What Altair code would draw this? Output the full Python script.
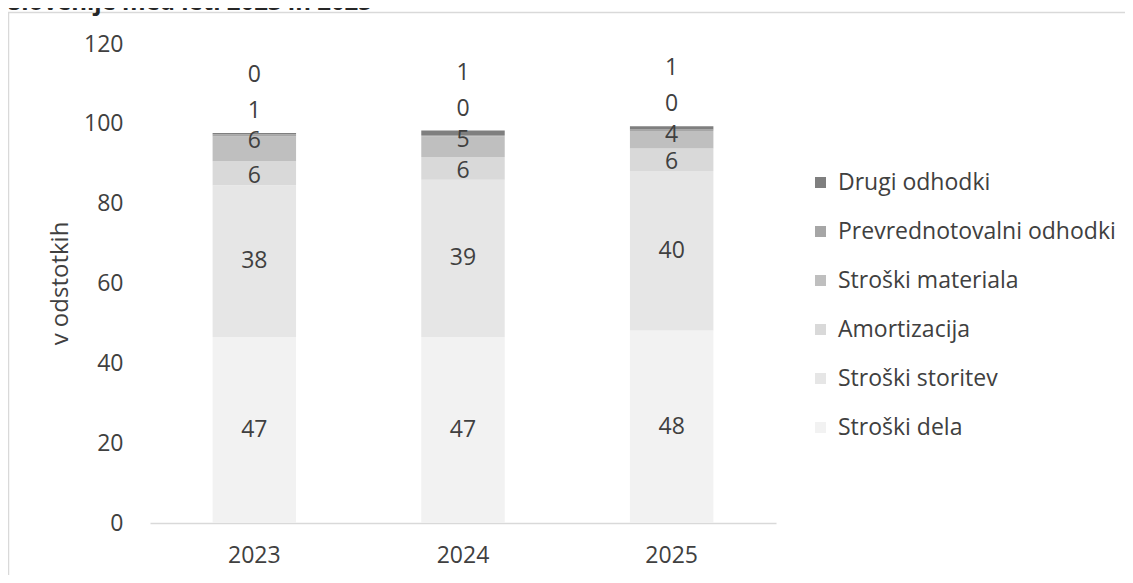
import altair as alt
import pandas as pd

years = ["2023", "2024", "2025"]
categories = ["Stroški dela", "Stroški storitev", "Amortizacija", "Stroški materiala",
              "Prevrednotovalni odhodki", "Drugi odhodki"]
colors = ["#f2f2f2", "#e6e6e6", "#d9d9d9", "#bfbfbf", "#a6a6a6", "#7f7f7f"]
stroski_dela = [46.6, 46.6, 48.2]
stroski_storitev = [38.0, 39.4, 40.0]
amortizacija = [6.0, 5.7, 5.6]
stroski_materiala = [6.2, 5.2, 4.4]
prevrednotovalni = [0.6, 0.3, 0.4]
drugi = [0.3, 1.1, 0.8]
title_text = "Slovenije med leti 2023 in 2025"

series = [stroski_dela, stroski_storitev, amortizacija, stroski_materiala, prevrednotovalni, drugi]
rows = []
for yi, yr in enumerate(years):
    base = 0.0
    total = sum(s[yi] for s in series)
    for ci, cat in enumerate(categories):
        v = series[ci][yi]
        y0, y1 = base, base + v
        base = y1
        if ci < 2:
            ly = (y0 + y1) / 2
        elif ci == 2:
            ly = (y0 + y1) / 2 - 0.6
        elif ci == 3:
            ly = y1 - 1.0
        elif ci == 4:
            ly = total + 5.5
        else:
            ly = total + 14.5
        rows.append({"leto": yr, "kategorija": cat, "idx": ci, "v": v,
                     "y0": y0, "y1": y1, "ly": ly, "lab": str(int(v + 0.5))})
df = pd.DataFrame(rows)

FONT = "Open Sans"
FS = 23
x_enc = alt.X("leto:N", title=None,
              scale=alt.Scale(paddingInner=0.6, paddingOuter=0.3),
              axis=alt.Axis(labelAngle=0, ticks=False, domainColor="#d9d9d9", domainWidth=1.5,
                            labelColor="#404040", labelFontSize=FS, labelFont=FONT,
                            labelPadding=21, grid=False))
y_scale = alt.Scale(domain=[0, 120], nice=False)

bars = alt.Chart(df).mark_bar().encode(
    x=x_enc,
    y=alt.Y("y0:Q", scale=y_scale, title="v odstotkih",
            axis=alt.Axis(values=[0, 20, 40, 60, 80, 100, 120], ticks=False, domain=False, grid=False,
                          labelColor="#404040", labelFontSize=FS, labelFont=FONT, labelPadding=27,
                          titleColor="#404040", titleFontSize=24, titleFont=FONT, titleFontWeight="normal",
                          titleX=-90, titleY=239, titleBaseline="middle", titleAngle=270)),
    y2="y1:Q",
    color=alt.Color("kategorija:N", scale=alt.Scale(domain=categories, range=colors),
                    legend=alt.Legend(title=None, orient="none", legendX=659, legendY=127,
                                      values=categories[::-1], symbolType="square", symbolSize=121,
                                      symbolStrokeWidth=0, labelFontSize=FS, labelFont=FONT,
                                      labelColor="#404040", labelOffset=6, rowPadding=25,
                                      labelLimit=400)),
)

labels = alt.Chart(df).mark_text(fontSize=FS, font=FONT, color="#404040", baseline="middle").encode(
    x=alt.X("leto:N"),
    y=alt.Y("ly:Q", scale=y_scale),
    text="lab:N",
)

frame = alt.Chart(alt.Data(values=[{"a": 1}])).mark_rect(
    fill="transparent", stroke="#d9d9d9", strokeWidth=1.5
).encode(x=alt.value(-141.5), y=alt.value(-31.5), x2=alt.value(1000), y2=alt.value(600))

title = alt.Chart(alt.Data(values=[{"a": 1}])).mark_text(
    align="left", baseline="alphabetic", fontSize=24, fontWeight="bold", font=FONT, color="#262626"
).encode(x=alt.value(-142), y=alt.value(-34), text=alt.value(title_text))

chart = alt.layer(frame, bars, labels, title).properties(
    width=626, height=479,
    autosize=alt.AutoSizeParams(type="none"),
    padding={"left": 142, "top": 36, "right": 349, "bottom": 52},
).configure_view(stroke="transparent")

chart.save("out.html", embed_options={"renderer": "svg", "actions": False})
